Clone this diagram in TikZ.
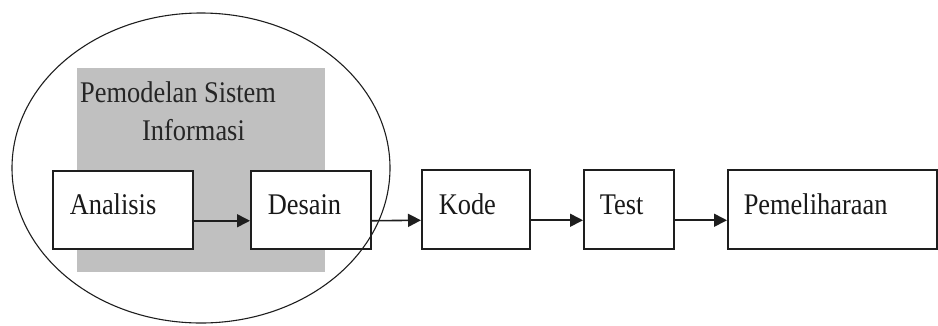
\documentclass[tikz,border=0pt]{standalone}
\usepackage{fontspec}
\setmainfont{Liberation Serif}[FakeStretch=0.88]
\usetikzlibrary{arrows.meta,shapes.geometric}
\definecolor{graybg}{RGB}{192,192,192}
\definecolor{linec}{RGB}{30,30,30}
\tikzset{
  stepbox/.style={draw=linec, line width=1.5pt, fill=white, anchor=north west,
    inner sep=0pt, align=left, text height=20pt, text depth=10pt, text=black!90,
    font=\fontsize{30}{35}\selectfont},
  flow/.style={draw=linec, line width=1.6pt, -{Triangle[length=13pt,width=13pt]}},
  titletext/.style={anchor=base west, inner sep=0pt, text=black!85, font=\fontsize{30}{35}\selectfont}
}
\begin{document}
\begin{tikzpicture}[x=1pt,y=-1pt]
\useasboundingbox (0,0) rectangle (938,325);
\node[fill=graybg, anchor=north west, minimum width=248pt, minimum height=204pt, inner sep=0pt] (area) at (77,68) {};
\node[titletext] (t1) at (80,102) {Pemodelan Sistem};
\node[titletext] (t2) at (142,140) {Informasi};
\node[stepbox, minimum width=140pt, minimum height=78pt, text width=106pt] (a) at (52,170) {Analisis};
\node[stepbox, minimum width=120pt, minimum height=78pt, text width=86pt] (d) at (250,170) {Desain};
\node[stepbox, minimum width=108pt, minimum height=79pt, text width=74pt] (k) at (421,169) {Kode};
\node[stepbox, minimum width=90pt, minimum height=79pt, text width=58pt] (t) at (583,169) {Test};
\node[stepbox, minimum width=209pt, minimum height=79pt, text width=177pt] (p) at (727,169) {Pemeliharaan};
\node[ellipse, draw=linec, line width=1.1pt, minimum width=378pt, minimum height=310pt, inner sep=0pt] (scope) at (201,168) {};
\draw[flow] ([yshift=-11pt]a.east) -- ([yshift=-11pt]d.west);
\draw[flow] ([yshift=-11pt]d.east) -- ([yshift=-11pt]k.west);
\draw[flow] ([yshift=-11pt]k.east) -- ([yshift=-11pt]t.west);
\draw[flow] ([yshift=-11pt]t.east) -- ([yshift=-11pt]p.west);
\end{tikzpicture}
\end{document}
